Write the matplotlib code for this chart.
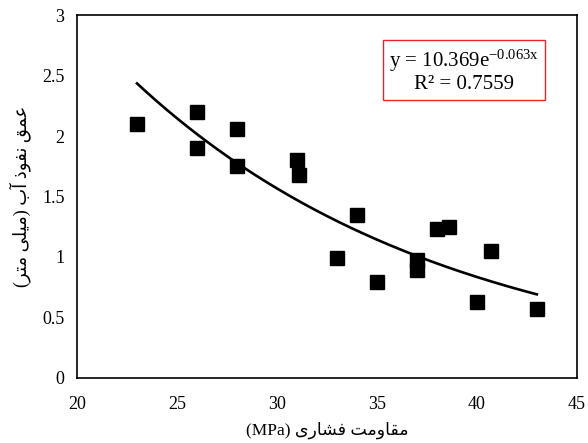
import numpy as np
import matplotlib
matplotlib.use('Agg')
import matplotlib.pyplot as plt

# data
strength = [23, 26, 26, 28, 28, 31, 31.1, 33, 34, 35, 37, 37, 38, 38.6, 40.7, 40, 43]
depth = [2.10, 2.20, 1.90, 2.06, 1.75, 1.80, 1.68, 0.99, 1.35, 0.79, 0.975, 0.89, 1.23, 1.25, 1.05, 0.63, 0.57]

# exponential trendline y = a * exp(b x)
fit_a = 10.369
fit_b = -0.063
fit_r2 = 0.7559

x_ticks = [20, 25, 30, 35, 40, 45]
y_ticks = [0, 0.5, 1, 1.5, 2, 2.5, 3]

plt.rcParams['font.family'] = ['Liberation Serif', 'DejaVu Sans']
plt.rcParams['mathtext.fontset'] = 'custom'
plt.rcParams['mathtext.rm'] = 'Liberation Serif'

# Persian labels written with presentation forms in visual (left to right) order,
# since matplotlib has no Arabic shaping / bidi
x_label = ('(MPa) '
           '\uFEEF\uFEAD\uFE8E\uFEB8\uFED3 '          # فشاری
           '\uFE96\uFEE3\uFEED\uFE8E\uFED8\uFEE3')    # مقاومت
y_label = ('(\uFEAE\uFE98\uFEE3 '                     # متر
           '\uFEF0\uFEE0\uFEF4\uFEE3) '               # میلی
           '\uFE8F\uFE81 '                            # آب
           '\uFEAB\uFEEE\uFED4\uFEE7 '                # نفوذ
           '\uFED6\uFEE4\uFECB')                      # عمق

fig = plt.figure(figsize=(5.88, 4.43), dpi=100)
ax = fig.add_axes([0.131, 0.147, 0.850, 0.819])

ax.plot(strength, depth, 's', color='black', markersize=10.5, zorder=3)

xs = np.linspace(min(strength), max(strength), 200)
ax.plot(xs, fit_a * np.exp(fit_b * xs), color='black', linewidth=1.9, zorder=2)

ax.set_xlim(20, 45)
ax.set_ylim(0, 3)
ax.set_xticks(x_ticks)
ax.set_yticks(y_ticks)
ax.set_yticklabels(['0', '0.5', '1', '1.5', '2', '2.5', '3'])
ax.tick_params(length=0, labelsize=13)
ax.tick_params(axis='x', pad=13)
ax.tick_params(axis='y', pad=9)

for s in ax.spines.values():
    s.set_color('black')
    s.set_linewidth(1.2)

ax.set_xlabel(x_label, fontsize=12.5, family=['Liberation Serif', 'DejaVu Sans'], labelpad=6)
ax.set_ylabel(y_label, fontsize=13, family=['Liberation Serif', 'DejaVu Sans'], labelpad=8)

eq = 'y = 10.369e$\\mathregular{^{-0.063x}}$\nR\u00b2 = %.4f' % fit_r2
ax.text(0.774, 0.846, eq, transform=ax.transAxes, ha='center', va='center',
        fontsize=15, linespacing=1.05,
        bbox=dict(boxstyle='square,pad=0.3', facecolor='white', edgecolor='#e8262a', linewidth=1))

fig.savefig('out.png', dpi=100)
